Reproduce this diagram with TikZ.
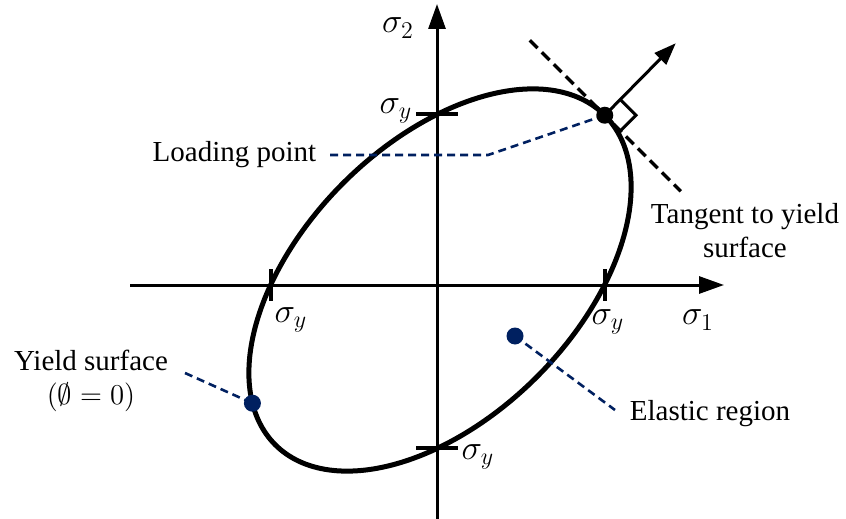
\documentclass[tikz,border=0pt]{standalone}
\usepackage{fontspec}
\setmainfont{Liberation Serif}
\usetikzlibrary{arrows.meta,intersections,calc}
\definecolor{navy}{RGB}{0,32,96}
\begin{document}
\begin{tikzpicture}[x=0.5pt,y=-0.5pt,
  axis/.style={line width=1.5pt,-{Triangle[length=12.5pt,width=8.5pt]}},
  normalarrow/.style={line width=1.5pt,-{Triangle[length=11pt,width=8pt]}},
  yieldcurve/.style={line width=2.5pt},
  tickmark/.style={line width=2pt},
  tangentline/.style={line width=1.75pt,dash pattern=on 5.5pt off 3pt},
  leader/.style={draw=navy,line width=1.3pt,dash pattern=on 4pt off 2.5pt},
  navydot/.style={circle,fill=navy,inner sep=0pt,minimum size=8.5pt},
  blackdot/.style={circle,fill=black,inner sep=0pt,minimum size=8.5pt},
  lbl/.style={font=\fontsize{14.5}{17}\selectfont,inner sep=0pt},
  mlbl/.style={font=\fontsize{16.5}{18}\selectfont,inner sep=0pt}]
\useasboundingbox (0,0) rectangle (846,519);
% axes
\coordinate (xs) at (130,285);
\coordinate (xe) at (724,285);
\coordinate (ys) at (437,520);
\coordinate (ye) at (437,4);
\draw[axis,name path=xaxis] (xs) -- (xe);
\draw[axis,name path=yaxis] (ys) -- (ye);
% yield ellipse
\draw[yieldcurve,name path=ell] plot[domain=0:357,samples=120,smooth cycle,variable=\t]
  ({440+0.7071*(233*cos(\t)-137*sin(\t))},{280-0.7071*(233*cos(\t)+137*sin(\t))});
% ticks
\path[name intersections={of=ell and xaxis,name=hx}];
\path[name intersections={of=ell and yaxis,name=hy}];
\draw[tickmark] ($(hx-1)+(0,-16)$) -- ($(hx-1)+(0,16)$);
\draw[tickmark] ($(hx-2)+(0,-16)$) -- ($(hx-2)+(0,16)$);
\draw[tickmark] ($(hy-1)+(-21,0)$) -- ($(hy-1)+(21,0)$);
\draw[tickmark] ($(hy-2)+(-21,0)$) -- ($(hy-2)+(21,0)$);
% special points
\coordinate (P) at ({440+0.7071*233},{280-0.7071*233});
\coordinate (Y) at ({440+0.7071*(233*cos(160.6)-137*sin(160.6))},{280-0.7071*(233*cos(160.6)+137*sin(160.6))});
\coordinate (E) at (515,336);
% tangent and normal
\coordinate (T1) at ($(P)+(-75,-75)$);
\coordinate (T2) at ($(P)+(76,76)$);
\coordinate (N) at ($(P)+(71,-72)$);
\draw[tangentline] (T1) -- (T2);
\draw[normalarrow] (P) -- (N);
\draw[line width=1.5pt] ($(P)+(15.6,-15.6)$) -- ++(15.6,15.6) -- ++(-15.6,15.6);
% labels
\node[mlbl] (s2) at (398,28) {$\sigma_2$};
\node[mlbl] (sytop) at (396,111) {$\sigma_y$};
\node[mlbl] (syleft) at (291,320) {$\sigma_y$};
\node[mlbl] (syright) at (608,322) {$\sigma_y$};
\node[mlbl] (s1) at (698,320) {$\sigma_1$};
\node[mlbl] (sybot) at (478,457) {$\sigma_y$};
\node[lbl] (lp) at (234.5,155) {Loading point};
\node[lbl,align=center] (tg) at (745,231) {Tangent to yield\\surface};
\node[lbl,align=center] (ysurf) at (91,381) {Yield surface\\$(\emptyset=0)$};
\node[lbl] (el) at (710,414) {Elastic region};
% leaders
\coordinate (lpA) at (330,155);
\coordinate (lpB) at (488,155);
\coordinate (ysA) at (185,373);
\coordinate (elA) at (615,410);
\draw[leader] (lpA) -- (lpB) -- (P);
\draw[leader] (ysA) -- (Y);
\draw[leader] (E) -- (elA);
% dots
\node[blackdot] (Pd) at (P) {};
\node[navydot] (Yd) at (Y) {};
\node[navydot] (Ed) at (E) {};
\end{tikzpicture}
\end{document}
